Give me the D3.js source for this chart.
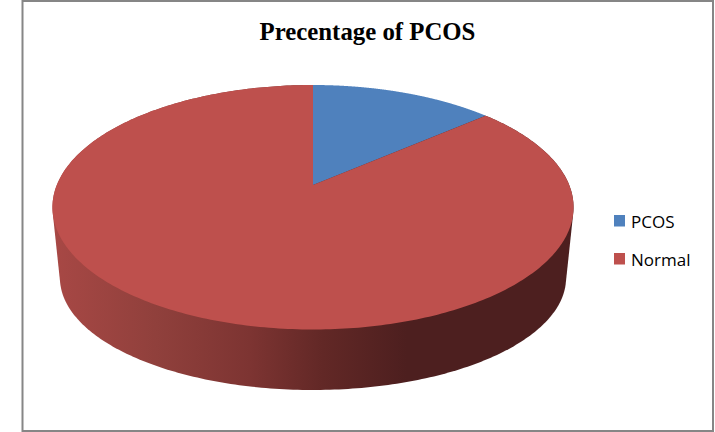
<!DOCTYPE html>
<html><head><meta charset="utf-8">
<script src="https://cdn.jsdelivr.net/npm/d3@7/dist/d3.min.js"></script>
<style>html,body{margin:0;padding:0;background:#fff}svg{display:block}</style>
</head><body><svg id="c" width="715" height="432"></svg>
<script>
const titleText = "Precentage of PCOS";
const categories = ["PCOS", "Normal"];
const values = [13.6, 86.4];
const colors = ["#4f81bd", "#be504d"];

const svg = d3.select("#c");
svg.append("rect").attr("x",22.5).attr("y",1).attr("width",690.5).attr("height",430)
  .attr("fill","#fff").attr("stroke","#868686").attr("stroke-width",2);

// perspective projection of the pie disc
const cx=313, apexY=185, R=256.2, K=118.2, P=0.182;
const project = a => {
  const w = 1 + P*Math.cos(a);
  return [cx + R*Math.sin(a)/w, apexY - K*Math.cos(a)/w];
};
// rim lower edge: top ellipse mapped to the lower, slightly smaller ellipse
const midTop=207.25, midBot=278, sx=253/260.5, sy=112/122.25;
const lower = ([x,y]) => [cx+(x-cx)*sx, midBot+(y-midTop)*sy];

const arcs = d3.pie().sort(null).value(d=>d)(values);
const samples = d => d3.range(0,361).map(i=>d.startAngle+(d.endAngle-d.startAngle)*i/360);
const line = d3.line();

const defs = svg.append("defs");
const grad = defs.append("linearGradient").attr("id","side").attr("gradientUnits","userSpaceOnUse")
  .attr("x1",52).attr("x2",573).attr("y1",0).attr("y2",0);
[[0,"#a84845"],[0.2,"#90403c"],[0.38,"#7d3432"],[0.52,"#622826"],[0.68,"#4d1f1f"],[1,"#4d1f1f"]]
  .forEach(([o,c])=>grad.append("stop").attr("offset",o).attr("stop-color",c));

// side wall
const rim = samples(arcs[1]).map(project);
const hull = d3.polygonHull(rim.concat(rim.map(lower)));
svg.append("path").attr("d",line(hull)+"Z").attr("fill","url(#side)");

// top faces
svg.selectAll("path.slice").data(arcs).join("path").attr("class","slice")
  .attr("d",d=>line([[cx,apexY],...samples(d).map(project)])+"Z")
  .attr("fill",(d,i)=>colors[i]);

svg.append("text").attr("x",367.5).attr("y",40).attr("text-anchor","middle")
  .attr("font-family","'Liberation Serif',serif").attr("font-weight","bold").attr("font-size",24.8)
  .attr("fill","#000").text(titleText);

const leg = svg.selectAll("g.leg").data(categories).join("g").attr("class","leg")
  .attr("transform",(d,i)=>`translate(614,${215+i*38})`);
leg.append("rect").attr("width",11).attr("height",11.5).attr("fill",(d,i)=>colors[i]);
leg.append("text").attr("x",17).attr("y",12.5).attr("font-family","'Open Sans',sans-serif")
  .attr("font-size",17).attr("fill","#000").text(d=>d);
</script></body></html>
